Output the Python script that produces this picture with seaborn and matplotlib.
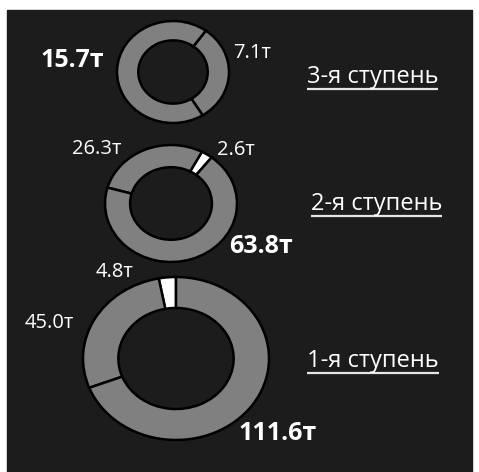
import matplotlib
matplotlib.use("Agg")
import matplotlib.pyplot as plt
import seaborn as sns

# data: rocket stages, masses (t), slice colours
stages = ["3-я ступень", "2-я ступень", "1-я ступень"]
values_3 = [7.1, 15.7]
values_2 = [2.6, 26.3, 63.8]
values_1 = [4.8, 45.0, 111.6]
labels_3 = ["7.1т", "15.7т"]
labels_2 = ["2.6т", "26.3т", "63.8т"]
labels_1 = ["4.8т", "45.0т", "111.6т"]
colors_3 = ["#808080", "#808080"]
colors_2 = ["#ffffff", "#808080", "#808080"]
colors_1 = ["#ffffff", "#808080", "#808080"]

W, H = 479, 472
BG = "#1c1c1c"

sns.set_theme(style="dark", rc={"axes.facecolor": BG})
plt.rcParams["font.family"] = ["Open Sans", "DejaVu Sans"]

fig = plt.figure(figsize=(W / 100, H / 100), dpi=100, facecolor="white")

# overlay in pixel coordinates (y down)
base = fig.add_axes([0, 0, 1, 1])
base.set_xlim(0, W)
base.set_ylim(H, 0)
base.axis("off")
base.add_patch(plt.Rectangle((7, 10), 465, H - 10, color=BG, zorder=0))


def donut(vals, cols, box, start):
    # box = (left, top, right, bottom) in pixels
    l, t, r, b = box
    ax = fig.add_axes([l / W, 1 - b / H, (r - l) / W, (b - t) / H])
    wedges, _ = ax.pie(vals, colors=cols, startangle=start, counterclock=True,
                       radius=1, wedgeprops=dict(width=0.38, edgecolor="black",
                                                 linewidth=1.8))
    for w in wedges:
        w.set_clip_on(False)
    ax.set_aspect("auto")
    ax.set_xlim(-1, 1)
    ax.set_ylim(-1, 1)
    ax.axis("off")
    return ax


donut(values_3, colors_3, (117, 21, 229, 123), -58)
donut(values_2, colors_2, (105, 145, 237, 262), 52)
donut(values_1, colors_1, (83, 277, 269, 440), 90)

txt = dict(color="white", ha="left", va="baseline")
big = dict(fontsize=18, fontweight="bold", **txt)
small = dict(fontsize=14.5, **txt)

base.text(41, 67, labels_3[1], **big)
base.text(233, 58, labels_3[0], **small)
base.text(72, 154, labels_2[1], **small)
base.text(217, 155, labels_2[0], **small)
base.text(229, 253, labels_2[2], **big)
base.text(96, 277, labels_1[0], **small)
base.text(25, 328, labels_1[1], **small)
base.text(239, 440, labels_1[2], **big)

stage_pos = [(307, 83), (311, 210), (307, 367)]
titles = []
for name, (x, y) in zip(stages, stage_pos):
    titles.append(base.text(x, y, name, fontsize=17, **txt))

# underline the stage titles
fig.canvas.draw()
inv = base.transData.inverted()
for t, (x, y) in zip(titles, stage_pos):
    bb = t.get_window_extent()
    (x0, _), (x1, _) = inv.transform([(bb.x0, bb.y0), (bb.x1, bb.y0)])
    base.plot([x0, x1], [y + 6, y + 6], color="#e6e6e6", lw=1.6,
              solid_capstyle="butt")

fig.savefig("out.png", dpi=100, facecolor="white")
